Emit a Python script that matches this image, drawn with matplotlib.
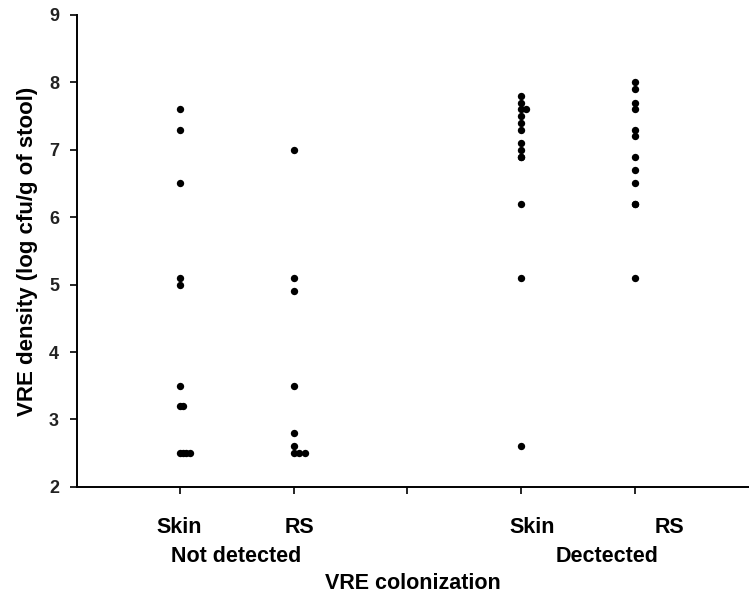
import matplotlib
matplotlib.use("Agg")
import matplotlib.pyplot as plt

plt.rcParams['font.family'] = ['Liberation Sans', 'DejaVu Sans']

# category positions on the x axis
group_x = [1, 2, 4, 5]
group_labels = ["Skin", "RS", "Skin", "RS"]

# VRE density values (log cfu/g of stool) for each group
skin_not_detected = [7.6, 7.3, 6.5, 5.1, 5.0, 3.5, 3.2, 3.2, 2.5, 2.5, 2.5, 2.5]
rs_not_detected = [7.0, 5.1, 4.9, 3.5, 2.8, 2.6, 2.5, 2.5, 2.5]
skin_detected = [7.8, 7.7, 7.6, 7.6, 7.5, 7.4, 7.3, 7.1, 7.0, 6.9, 6.9, 6.2, 5.1, 2.6]
rs_detected = [8.0, 7.9, 7.7, 7.6, 7.3, 7.2, 6.9, 6.7, 6.5, 6.2, 6.2, 5.1]

# small sideways nudges for overlapping points
skin_nd_shift = [0, 0, 0, 0, 0, 0, 0, 0.03, 0, 0.03, 0.06, 0.09]
rs_nd_shift = [0, 0, 0, 0, 0, 0, 0, 0.05, 0.1]
skin_d_shift = [0, 0, 0, 0.04, 0, 0, 0, 0, 0, 0, 0, 0, 0, 0]
rs_d_shift = [0] * len(rs_detected)

groups = [skin_not_detected, rs_not_detected, skin_detected, rs_detected]
shifts = [skin_nd_shift, rs_nd_shift, skin_d_shift, rs_d_shift]

fig = plt.figure(figsize=(7.49, 5.96), dpi=100)
ax = fig.add_axes([0.103, 0.183, 0.897, 0.792])

for gx, vals, sh in zip(group_x, groups, shifts):
    xs = [gx + s for s in sh]
    ax.scatter(xs, vals, s=28, color="black", zorder=3, linewidths=0)

ax.set_xlim(0.1, 6.0)
ax.set_ylim(2, 9)
ax.set_yticks(range(2, 10))
ax.set_xticks([1, 2, 3, 4, 5])
ax.set_xticklabels([])
ax.tick_params(axis="y", direction="out", length=5, width=1.2, labelsize=13, pad=8)
ax.tick_params(axis="x", direction="out", length=5, width=1.2)
for lab in ax.get_yticklabels():
    lab.set_fontweight("bold")
    lab.set_color("#222222")

ax.spines["top"].set_visible(False)
ax.spines["right"].set_visible(False)
ax.spines["left"].set_linewidth(1.4)
ax.spines["bottom"].set_linewidth(1.4)

ax.set_ylabel("VRE density (log cfu/g of stool)", fontsize=16, fontweight="bold", labelpad=8)

# category texts below the axis
tr = ax.get_xaxis_transform()
label_x = [1.0, 2.05, 4.1, 5.3]
for lx, lab in zip(label_x, group_labels):
    ax.text(lx, -0.085, lab, transform=tr, ha="center", va="center",
            fontsize=15.5, fontweight="bold")
ax.text(1.5, -0.148, "Not detected", transform=tr, ha="center", va="center",
        fontsize=15.5, fontweight="bold")
ax.text(4.75, -0.148, "Dectected", transform=tr, ha="center", va="center",
        fontsize=15.5, fontweight="bold")
ax.text(3.05, -0.205, "VRE colonization", transform=tr, ha="center", va="center",
        fontsize=15.5, fontweight="bold")

fig.savefig("out.png", dpi=100)
